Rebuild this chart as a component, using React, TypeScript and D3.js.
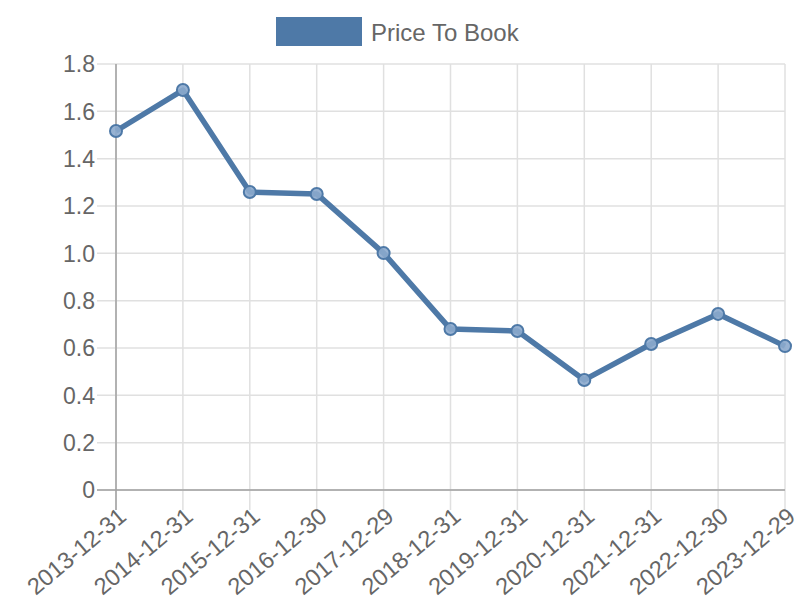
import React, { useEffect, useRef } from 'react';
import * as d3 from 'd3';

const dates = [
  '2013-12-31', '2014-12-31', '2015-12-31', '2016-12-30', '2017-12-29', '2018-12-31',
  '2019-12-31', '2020-12-31', '2021-12-31', '2022-12-30', '2023-12-29',
];
const priceToBook = [1.517, 1.69, 1.259, 1.251, 1.001, 0.68, 0.672, 0.465, 0.617, 0.744, 0.608];
const yTicks = [0, 0.2, 0.4, 0.6, 0.8, 1.0, 1.2, 1.4, 1.6, 1.8];
const seriesName = 'Price To Book';

const App = () => {
  const svgRef = useRef(null);

  useEffect(() => {
    const width = 800;
    const height = 600;
    const margin = { top: 64, right: 15, bottom: 110, left: 116 };
    const color = '#4e79a7';
    const font = '"Liberation Sans", Arial, Helvetica, sans-serif';

    const svg = d3.select(svgRef.current);
    svg.selectAll('*').remove();

    const x = d3.scalePoint()
      .domain(dates)
      .range([margin.left, width - margin.right]);

    const y = d3.scaleLinear()
      .domain([0, 1.8])
      .range([height - margin.bottom, margin.top]);

    // grid lines
    svg.append('g')
      .selectAll('line')
      .data(yTicks)
      .enter()
      .append('line')
      .attr('x1', margin.left - 19)
      .attr('x2', width - margin.right)
      .attr('y1', d => y(d))
      .attr('y2', d => y(d))
      .style('stroke', '#e0e0e0')
      .style('stroke-width', 1.5);

    svg.append('g')
      .selectAll('line')
      .data(dates)
      .enter()
      .append('line')
      .attr('x1', d => x(d))
      .attr('x2', d => x(d))
      .attr('y1', margin.top)
      .attr('y2', height - margin.bottom + 20)
      .style('stroke', '#e0e0e0')
      .style('stroke-width', 1.5);

    // axis lines
    svg.append('line')
      .attr('x1', margin.left)
      .attr('x2', margin.left)
      .attr('y1', margin.top)
      .attr('y2', height - margin.bottom + 20)
      .style('stroke', '#a0a0a0')
      .style('stroke-width', 1.5);

    svg.append('line')
      .attr('x1', margin.left - 19)
      .attr('x2', width - margin.right)
      .attr('y1', y(0))
      .attr('y2', y(0))
      .style('stroke', '#a0a0a0')
      .style('stroke-width', 1.5);

    // y labels
    svg.append('g')
      .selectAll('text')
      .data(yTicks)
      .enter()
      .append('text')
      .attr('x', margin.left - 21)
      .attr('y', d => y(d))
      .attr('dy', '0.36em')
      .attr('text-anchor', 'end')
      .style('font-family', font)
      .style('font-size', '23px')
      .style('fill', '#666')
      .text(d => (d === 0 ? '0' : d3.format('.1f')(d)));

    // x labels
    svg.append('g')
      .selectAll('text')
      .data(dates)
      .enter()
      .append('text')
      .attr('transform', d => `translate(${x(d) + 1},${height - margin.bottom + 16}) rotate(-40)`)
      .attr('dy', '0.71em')
      .attr('text-anchor', 'end')
      .style('font-family', font)
      .style('font-size', '23.5px')
      .style('fill', '#666')
      .text(d => d);

    // line
    const line = d3.line()
      .x((d, i) => x(dates[i]))
      .y(d => y(d));

    svg.append('path')
      .datum(priceToBook)
      .attr('d', line)
      .style('fill', 'none')
      .style('stroke', color)
      .style('stroke-width', 5.5)
      .style('stroke-linejoin', 'round');

    svg.append('g')
      .selectAll('circle')
      .data(priceToBook)
      .enter()
      .append('circle')
      .attr('cx', (d, i) => x(dates[i]))
      .attr('cy', d => y(d))
      .attr('r', 6)
      .style('fill', 'rgba(140, 170, 205, 0.9)')
      .style('stroke', color)
      .style('stroke-width', 2);

    // legend
    const legend = svg.append('g');
    legend.append('rect')
      .attr('x', 276)
      .attr('y', 17)
      .attr('width', 86)
      .attr('height', 29)
      .style('fill', color);
    legend.append('text')
      .attr('x', 371)
      .attr('y', 32)
      .attr('dy', '0.36em')
      .style('font-family', font)
      .style('font-size', '24px')
      .style('fill', '#666')
      .text(seriesName);
  }, []);

  return (
    <svg
      ref={svgRef}
      width={800}
      height={600}
      style={{ position: 'absolute', left: 0, top: 0, background: '#fff' }}
    />
  );
};

export default App;
